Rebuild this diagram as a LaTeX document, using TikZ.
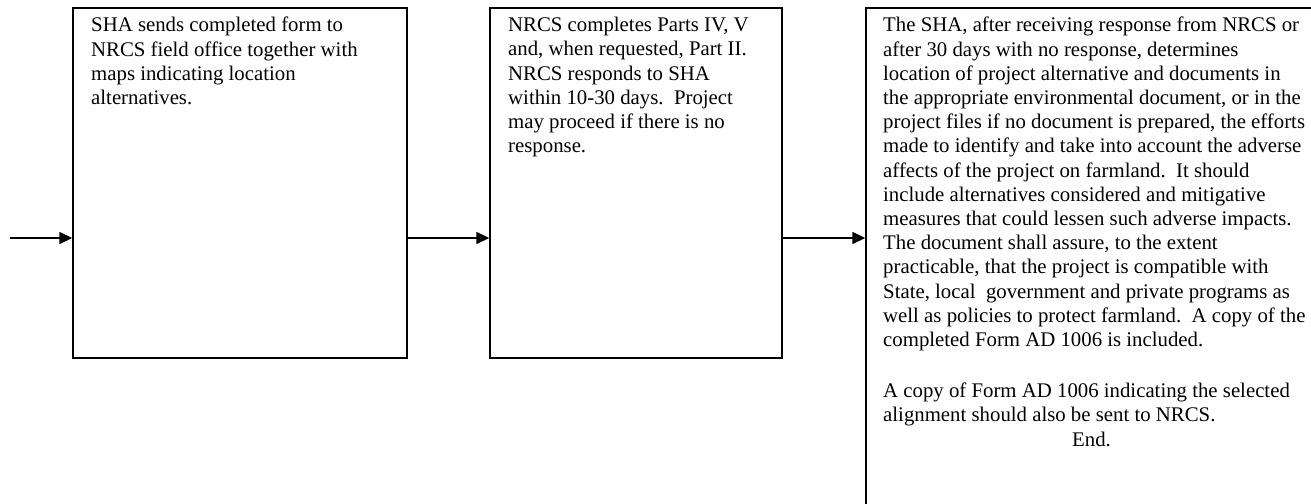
\documentclass[tikz,border=0pt]{standalone}
\usepackage{fontspec}
\setmainfont{Liberation Serif}
\usetikzlibrary{arrows.meta}
\begin{document}
\begin{tikzpicture}[x=1pt,y=-1pt,
  box/.style={draw, line width=1.4pt, inner sep=0pt, rectangle},
  txt/.style={anchor=north west, inner sep=0pt, align=left, font=\fontsize{20.8}{24.2}\selectfont},
  conn/.style={line width=1.5pt, -{Triangle[length=13pt,width=12pt]}}
]
\useasboundingbox (0,0) rectangle (1311,503);
\clip (0,0) rectangle (1311,503);
\node[box, minimum width=334pt, minimum height=350pt] (b1) at (240,183) {};
\node[box, minimum width=292pt, minimum height=350pt] (b2) at (636,183) {};
\node[box, minimum width=500pt, minimum height=560pt] (b3) at (1116,288) {};
\node[txt] (t1) at (91,17) {SHA sends completed form to\\NRCS field office together with\\maps indicating location\\alternatives.};
\node[txt] (t2) at (508,17) {NRCS completes Parts IV, V\\and, when requested, Part II.\\NRCS responds to SHA\\within 10-30 days.\ \ Project\\may proceed if there is no\\response.};
\node[txt] (t3) at (883,17) {The SHA, after receiving response from NRCS or\\after 30 days with no response, determines\\location of project alternative and documents in\\the appropriate environmental document, or in the\\project files if no document is prepared, the efforts\\made to identify and take into account the adverse\\affects of the project on farmland.\ \ It should\\include alternatives considered and mitigative\\measures that could lessen such adverse impacts.\\The document shall assure, to the extent\\practicable, that the project is compatible with\\State, local\ \ government and private programs as\\well as policies to protect farmland.\ \ A copy of the\\completed Form AD 1006 is included.\\[27pt]A copy of Form AD 1006 indicating the selected\\alignment should also be sent to NRCS.\\\hspace*{189pt}End.};
\coordinate (s) at (10,238);
\draw[conn] (s) -- (s -| b1.west);
\draw[conn] (b1.east |- s) -- (b2.west |- s);
\draw[conn] (b2.east |- s) -- (b3.west |- s);
\end{tikzpicture}
\end{document}
